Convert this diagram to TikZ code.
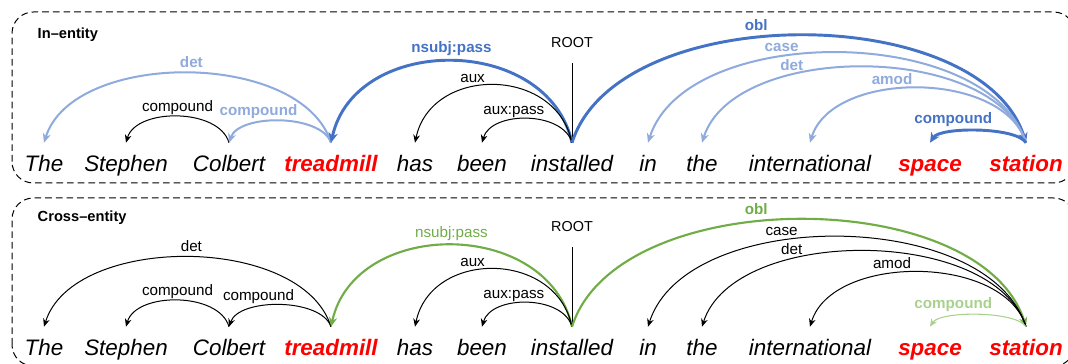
\documentclass[tikz,border=0pt]{standalone}
\usepackage{fontspec}
\setmainfont{Liberation Sans}
\usepackage{tikz}
\usetikzlibrary{arrows.meta}

\definecolor{depblue}{HTML}{4472C4}
\definecolor{deplightblue}{HTML}{8FAADC}
\definecolor{depgreen}{HTML}{70AD47}
\definecolor{deplightgreen}{HTML}{A9D18E}
\definecolor{entityred}{HTML}{FF0000}

\tikzset{
  frame/.style={dash pattern=on 5pt off 3pt, line width=0.75pt, rounded corners=16pt},
  title/.style={anchor=west, font=\fontsize{11}{13}\selectfont\bfseries},
  word/.style={anchor=base, font=\fontsize{16.8}{19}\selectfont\itshape, text height=12pt, text depth=3.5pt, inner xsep=0pt, inner ysep=9.75pt},
  entity/.style={word, text=entityred, font=\fontsize{16.8}{19}\selectfont\itshape\bfseries},
  rootlabel/.style={anchor=base, font=\fontsize{10.8}{12}\selectfont, text depth=0pt, inner ysep=11pt},
  deplabel/.style={above, font=\fontsize{11.4}{13}\selectfont, text height=8pt, text depth=2pt, inner sep=1.5pt},
  boldlabel/.style={deplabel, font=\fontsize{11.4}{13}\selectfont\bfseries},
  plainarc/.style={black, line width=0.75pt, -{Stealth[length=6pt, width=5pt]}},
  lightarc/.style={deplightblue, line width=1.5pt, -{Stealth[length=7pt, width=6pt]}},
  heavyarc/.style={depblue, line width=2.2pt, -{Stealth[length=7.5pt, width=7pt]}},
  greenarc/.style={depgreen, line width=1.6pt, -{Stealth[length=7pt, width=6pt]}},
  palearc/.style={deplightgreen, line width=0.8pt, -{Stealth[length=6pt, width=5pt]}},
}

\begin{document}
\begin{tikzpicture}[x=0.75pt, y=0.75pt]

\useasboundingbox (0,0) rectangle (1068,364);
\clip (0,0) rectangle (1068,364);

% dashed frames
\draw[frame] (12,181) rectangle (1075,352);
\draw[frame] (12,-2) rectangle (1075,166);

%
% In-entity top
%

\path (33,329) node[title] (title1) {In--entity};

\path (572,316) node[rootlabel] (root1) {ROOT};

\path (44,192) node[word] (The1) {The};
\path (126,192) node[word] (Stephen1) {Stephen};
\path (229,192) node[word] (Colbert1) {Colbert};
\path (331,192) node[entity] (treadmill1) {treadmill};
\path (415,192) node[word] (has1) {has};
\path (482,192) node[word] (been1) {been};
\path (572,192) node[word] (installed1) {installed};
\path (648,192) node[word] (in1) {in};
\path (702,192) node[word] (the1) {the};
\path (810,192) node[word] (intl1) {international};
\path (930,192) node[entity] (space1) {space};
\path (1026,192) node[entity] (station1) {station};

% root
\draw[line width=0.75pt] (root1.south) -- (installed1.north);

% treadmill arcs
\draw[lightarc] (treadmill1.north) .. controls +(-29,93) and +(29,93) .. (The1.north)
  node[boldlabel, pos=.49] {det};
\draw[plainarc] (Colbert1.north) .. controls +(-10,35) and +(10,35) .. (Stephen1.north)
  node[deplabel, pos=.5] {compound};
\draw[lightarc] (treadmill1.north) .. controls +(-10,29) and +(10,29) .. (Colbert1.north)
  node[boldlabel, pos=.66, inner sep=3pt] {compound};

% installed arcs
\draw[heavyarc] (installed1.north) .. controls +(-24,109) and +(24,109) .. (treadmill1.north)
  node[boldlabel, pos=.5, inner sep=3pt] {nsubj:pass};
\draw[plainarc] (installed1.north) .. controls +(-16,77) and +(16,77) .. (has1.north)
  node[deplabel, pos=.6] {aux};
\draw[plainarc] (installed1.north) .. controls +(-9,32) and +(9,32) .. (been1.north)
  node[deplabel, pos=.61] {aux:pass};
\draw[heavyarc] (installed1.north) .. controls +(45,143) and +(-45,143) .. (station1.north)
  node[boldlabel, pos=.43, inner sep=2.5pt] {obl};

% station arcs
\draw[lightarc] (station1.north) .. controls +(-38,120) and +(38,120) .. (in1.north)
  node[boldlabel, pos=.61] {case};
\draw[lightarc] (station1.north) .. controls +(-32,101) and +(32,101) .. (the1.north)
  node[boldlabel, pos=.67] {det};
\draw[lightarc] (station1.north) .. controls +(-22,73) and +(22,73) .. (intl1.north)
  node[boldlabel, pos=.59] {amod};
\draw[heavyarc] (station1.north) .. controls +(-10,16) and +(10,16) .. (space1.north)
  node[boldlabel, pos=.7, inner sep=4pt] {compound};

%
% Cross-entity bottom
%

\path (33,146) node[title] (title2) {Cross--entity};

\path (572,132) node[rootlabel] (root2) {ROOT};

\path (44,8) node[word] (The2) {The};
\path (126,8) node[word] (Stephen2) {Stephen};
\path (229,8) node[word] (Colbert2) {Colbert};
\path (331,8) node[entity] (treadmill2) {treadmill};
\path (415,8) node[word] (has2) {has};
\path (482,8) node[word] (been2) {been};
\path (572,8) node[word] (installed2) {installed};
\path (648,8) node[word] (in2) {in};
\path (702,8) node[word] (the2) {the};
\path (810,8) node[word] (intl2) {international};
\path (930,8) node[entity] (space2) {space};
\path (1026,8) node[entity] (station2) {station};

% root
\draw[line width=0.75pt] (root2.south) -- (installed2.north);

% treadmill arcs
\draw[plainarc] (treadmill2.north) .. controls +(-29,93) and +(29,93) .. (The2.north)
  node[deplabel, pos=.49] {det};
\draw[plainarc] (Colbert2.north) .. controls +(-10,35) and +(10,35) .. (Stephen2.north)
  node[deplabel, pos=.5] {compound};
\draw[plainarc] (treadmill2.north) .. controls +(-10,29) and +(10,29) .. (Colbert2.north)
  node[deplabel, pos=.66, inner sep=3pt] {compound};

% installed arcs
\draw[greenarc] (installed2.north) .. controls +(-24,109) and +(24,109) .. (treadmill2.north)
  node[deplabel, pos=.5, inner sep=3pt] {nsubj:pass};
\draw[plainarc] (installed2.north) .. controls +(-16,77) and +(16,77) .. (has2.north)
  node[deplabel, pos=.6] {aux};
\draw[plainarc] (installed2.north) .. controls +(-9,32) and +(9,32) .. (been2.north)
  node[deplabel, pos=.61] {aux:pass};
\draw[greenarc] (installed2.north) .. controls +(45,143) and +(-45,143) .. (station2.north)
  node[boldlabel, pos=.43, inner sep=2.5pt] {obl};

% station arcs
\draw[plainarc] (station2.north) .. controls +(-38,120) and +(38,120) .. (in2.north)
  node[deplabel, pos=.61] {case};
\draw[plainarc] (station2.north) .. controls +(-32,101) and +(32,101) .. (the2.north)
  node[deplabel, pos=.67] {det};
\draw[plainarc] (station2.north) .. controls +(-22,73) and +(22,73) .. (intl2.north)
  node[deplabel, pos=.59] {amod};
\draw[palearc] (station2.north) .. controls +(-10,16) and +(10,16) .. (space2.north)
  node[boldlabel, pos=.7, inner sep=4pt] {compound};

\end{tikzpicture}
\end{document}
